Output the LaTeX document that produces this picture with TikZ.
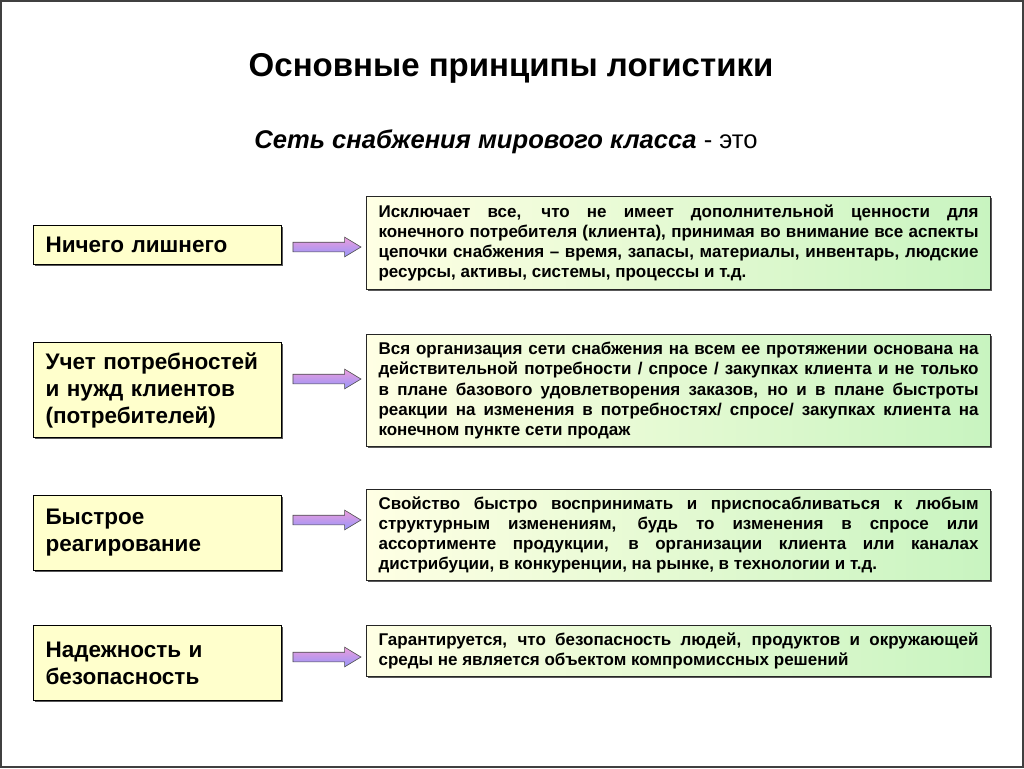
\documentclass[tikz,border=0pt]{standalone}
\usepackage{fontspec}
\setmainfont{Liberation Sans}
\usetikzlibrary{shapes.arrows,shadows}
\definecolor{lyellow}{HTML}{FFFFCC}
\definecolor{rleft}{HTML}{FFFFE4}
\definecolor{rright}{HTML}{C8F4C0}
\definecolor{arrL}{HTML}{EC9CDC}
\definecolor{arrR}{HTML}{9696FA}
\hyphenpenalty=10000
\exhyphenpenalty=10000
\begin{document}
\begin{tikzpicture}[x=1pt,y=-1pt,
  leftbox/.style={draw=black, line width=1.1pt, fill=lyellow, anchor=north west,
    text width=224pt, inner xsep=12pt, inner ysep=0pt, minimum width=248pt, align=left,
    font=\fontsize{22.5}{27}\selectfont\bfseries,
    drop shadow={shadow xshift=1.6pt, shadow yshift=-1.6pt, fill=black!65, opacity=1}},
  rightbox/.style={draw=black!85, line width=1.1pt, left color=rleft, right color=rright, anchor=north west,
    text width=600pt, inner xsep=12pt, inner ysep=0pt, minimum width=624pt, align=justify,
    font=\fontsize{17}{20.2}\selectfont\bfseries,
    drop shadow={shadow xshift=1.6pt, shadow yshift=-1.6pt, fill=black!65, opacity=1}},
  blockarrow/.style={single arrow, draw=black!70, line width=0.6pt, left color=arrL, right color=arrR,
    shading angle=0, minimum height=68pt, minimum width=19pt, inner xsep=0pt, inner ysep=4.5pt,
    single arrow head extend=5pt, single arrow tip angle=62, anchor=center}
]
\useasboundingbox (0,0) rectangle (1024,768);
\draw[line width=1.6pt, black!75] (0.8,0.8) rectangle (1023.2,767.2);

\node[anchor=base, font=\fontsize{33}{40}\selectfont\bfseries] (title) at (511,76) {Основные принципы логистики};
\node[anchor=base, font=\fontsize{25.6}{30}\selectfont] (sub) at (506,148) {\textbf{\textit{Сеть снабжения мирового класса}} - это};

% left boxes
\node[leftbox, minimum height=39pt] (l1) at (33,225) {Ничего лишнего};
\node[leftbox, minimum height=95pt] (l2) at (33,342) {Учет потребностей\\и нужд клиентов\\(потребителей)};
\node[leftbox, minimum height=75pt] (l3) at (33,495) {Быстрое\\реагирование};
\node[leftbox, minimum height=75pt] (l4) at (33,625) {Надежность и\\безопасность};

% right boxes
\node[rightbox, minimum height=93pt] (r1) at (366,196) {Исключает все, что не имеет дополнительной ценности для\linebreak
конечного потребителя (клиента), принимая во внимание все аспекты\linebreak
цепочки снабжения – время, запасы, материалы, инвентарь, людские\linebreak
ресурсы, активы, системы, процессы и т.д.};
\node[rightbox, minimum height=112pt] (r2) at (366,334) {Вся организация сети снабжения на всем ее протяжении основана на\linebreak
действительной потребности / спросе / закупках клиента и не только\linebreak
в плане базового удовлетворения заказов, но и в плане быстроты\linebreak
реакции на изменения в потребностях/ спросе/ закупках клиента на\linebreak
конечном пункте сети продаж};
\node[rightbox, minimum height=91pt] (r3) at (366,489) {Свойство быстро воспринимать и приспосабливаться к любым\linebreak
структурным изменениям, будь то изменения в спросе или\linebreak
ассортименте продукции, в организации клиента или каналах\linebreak
дистрибуции, в конкуренции, на рынке, в технологии и т.д.};
\node[rightbox, minimum height=51pt] (r4) at (366,625) {Гарантируется, что безопасность людей, продуктов и окружающей\linebreak
среды не является объектом компромиссных решений};

% arrows
\node[blockarrow] (a1) at (323,247) {};
\node[blockarrow] (a2) at (323,379) {};
\node[blockarrow] (a3) at (323,520) {};
\node[blockarrow] (a4) at (323,657) {};
\end{tikzpicture}
\end{document}
